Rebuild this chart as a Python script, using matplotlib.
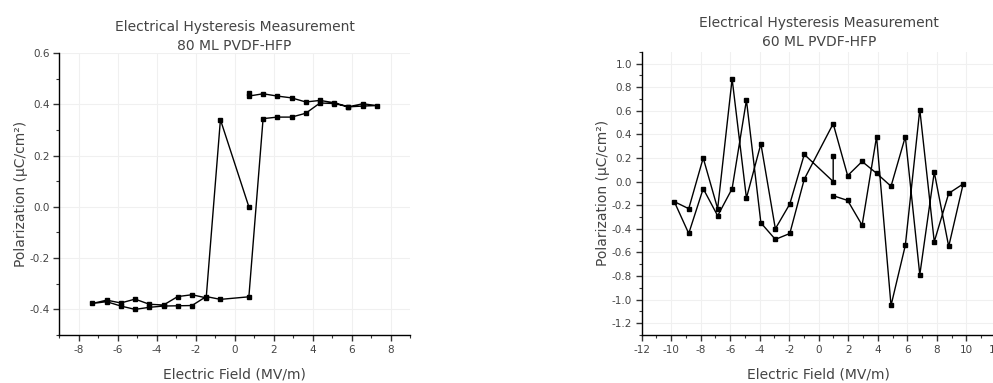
import matplotlib
matplotlib.use("Agg")
import matplotlib.pyplot as plt
from matplotlib.ticker import MultipleLocator

plt.rcParams.update({
    "font.family": "DejaVu Sans",
    "font.size": 9,
    "axes.unicode_minus": False,  # plain hyphen like the original
    "axes.linewidth": 1.0,
    "xtick.labelsize": 7.5,
    "ytick.labelsize": 7.5,
    "xtick.major.size": 4,
    "ytick.major.size": 4,
    "xtick.minor.size": 2.5,
    "ytick.minor.size": 2.5,
    "xtick.major.width": 1.0,
    "ytick.major.width": 1.0,
    "xtick.minor.width": 0.8,
    "ytick.minor.width": 0.8,
    "xtick.color": "#333333",
    "ytick.color": "#333333",
    "xtick.labelcolor": "#444444",
    "ytick.labelcolor": "#444444",
})

# 80 ML PVDF-HFP loop (field in MV/m, polarization in uC/cm^2)
field_80 = [0.73, -0.73, -1.46, -2.19, -2.92, -3.65, -4.38, -5.11, -5.84, -6.57, -7.30,
            -6.57, -5.84, -5.11, -4.38, -3.65, -2.92, -2.19, -1.46, -0.73, 0.73,
            1.46, 2.19, 2.92, 3.65, 4.38, 5.11, 5.84, 6.57, 7.30,
            6.57, 5.84, 5.11, 4.38, 3.65, 2.92, 2.19, 1.46, 0.73, 0.73]
pol_80 = [0.0, 0.34, -0.355, -0.343, -0.35, -0.383, -0.38, -0.36, -0.375, -0.364, -0.377,
          -0.37, -0.387, -0.40, -0.392, -0.387, -0.386, -0.385, -0.35, -0.361, -0.351,
          0.344, 0.35, 0.35, 0.365, 0.405, 0.403, 0.39, 0.393, 0.395,
          0.402, 0.39, 0.406, 0.415, 0.409, 0.425, 0.432, 0.441, 0.432, 0.445]

# 60 ML PVDF-HFP loop
field_60 = [0.98, 0.98, -0.98, -1.96, -2.94, -3.92, -4.90, -5.87, -6.85, -7.83, -8.81, -9.79,
            -8.81, -7.83, -6.85, -5.87, -4.90, -3.92, -2.94, -1.96, -0.98, 0.98,
            1.96, 2.94, 3.92, 4.90, 5.87, 6.85, 7.83, 8.81, 9.79,
            8.81, 7.83, 6.85, 5.87, 4.90, 3.92, 2.94, 1.96, 0.98]
pol_60 = [0.22, 0.0, 0.23, -0.19, -0.40, 0.32, -0.14, 0.87, -0.23, 0.20, -0.23, -0.17,
          -0.44, -0.06, -0.29, -0.06, 0.69, -0.35, -0.49, -0.44, 0.02, 0.49,
          0.05, 0.17, 0.07, -0.04, 0.38, -0.79, 0.08, -0.55, -0.02,
          -0.10, -0.51, 0.61, -0.54, -1.05, 0.38, -0.37, -0.16, -0.12]

fig = plt.figure(figsize=(9.93, 3.83), dpi=100)
ax1 = fig.add_axes([0.0597, 0.1253, 0.3532, 0.7363])
ax2 = fig.add_axes([0.6462, 0.1253, 0.3566, 0.7397])

panels = [
    (ax1, field_80, pol_80, "80 ML PVDF-HFP", (-9, 9), (-0.5, 0.6), -1),
    (ax2, field_60, pol_60, "60 ML PVDF-HFP", (-12, 12), (-1.3, 1.1), 4),
]

for ax, x, y, name, xlim, ylim, tpad in panels:
    ax.plot(x, y, color="black", lw=1.0, marker="s", ms=2.2, zorder=3)
    ax.set_xlim(*xlim)
    ax.set_ylim(*ylim)
    ax.xaxis.set_major_locator(MultipleLocator(2))
    ax.xaxis.set_minor_locator(MultipleLocator(1))
    ax.yaxis.set_major_locator(MultipleLocator(0.2))
    ax.yaxis.set_minor_locator(MultipleLocator(0.1))
    ax.tick_params(which="both", direction="out", pad=3)
    ax.spines["top"].set_visible(False)
    ax.spines["right"].set_visible(False)
    ax.grid(True, which="major", color="#f0f0f0", lw=0.8, zorder=0)
    ax.set_axisbelow(True)
    ax.set_title("Electrical Hysteresis Measurement\n" + name, fontsize=10,
                 color="#444444", linespacing=1.45, pad=tpad)
    ax.set_xlabel("Electric Field (MV/m)", fontsize=10, color="#444444", labelpad=9)
    ax.set_ylabel("Polarization (μC/cm²)", fontsize=10, color="#444444", labelpad=1)

# y ticks shown only within the labelled range
ax1.set_yticks([-0.4, -0.2, 0.0, 0.2, 0.4, 0.6])
ax2.set_yticks([-1.2, -1.0, -0.8, -0.6, -0.4, -0.2, 0.0, 0.2, 0.4, 0.6, 0.8, 1.0])
ax1.set_xticks([-8, -6, -4, -2, 0, 2, 4, 6, 8])

fig.savefig("out.png", dpi=100)
